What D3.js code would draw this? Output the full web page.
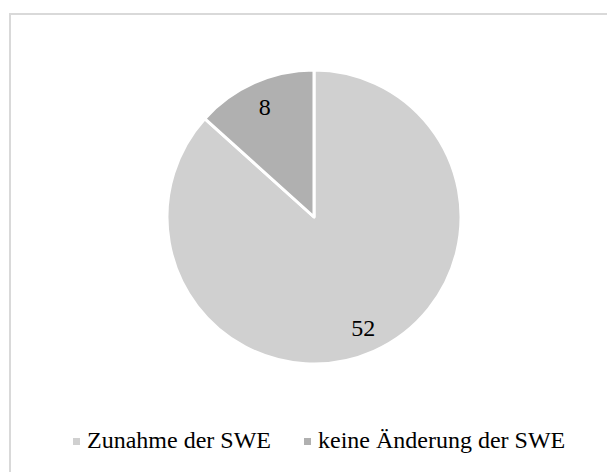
<!DOCTYPE html>
<html>
<head>
<meta charset="utf-8">
<script src="https://cdn.jsdelivr.net/npm/d3@7"></script>
<style>
  body { margin: 0; background: #fff; }
  svg { display: block; }
  text { font-family: "Liberation Serif", Tinos, "Times New Roman", "DejaVu Serif", serif; }
</style>
</head>
<body>
<div id="chart"></div>
<script>
// pie data
var categories = ["Zunahme der SWE", "keine Änderung der SWE"];
var values = [52, 8];
var colors = ["#d0d0d0", "#b0b0b0"];

var width = 607, height = 472;
var cx = 314, cy = 217, radius = 147;

var svg = d3.select("#chart")
  .append("svg")
  .attr("width", width)
  .attr("height", height);

// chart area border (runs off the right/bottom edge like the original)
svg.append("rect")
  .attr("x", 10)
  .attr("y", 14)
  .attr("width", 610)
  .attr("height", 470)
  .attr("fill", "#fff")
  .attr("stroke", "#d9d9d9")
  .attr("stroke-width", 2);

var pie = d3.pie().sort(null).value(d => d);
var arcs = pie(values);

var arc = d3.arc().innerRadius(0).outerRadius(radius);
var labelArc = d3.arc().innerRadius(121).outerRadius(121);

var g = svg.append("g").attr("transform", `translate(${cx}, ${cy})`);

g.selectAll("path")
  .data(arcs)
  .join("path")
    .attr("d", arc)
    .attr("fill", (d, i) => colors[i])
    .attr("stroke", "#fff")
    .attr("stroke-width", 3)
    .attr("stroke-linejoin", "round");

g.selectAll("text")
  .data(arcs)
  .join("text")
    .attr("transform", d => `translate(${labelArc.centroid(d)})`)
    .attr("text-anchor", "middle")
    .attr("dy", "0.35em")
    .attr("font-size", 24)
    .attr("fill", "#000")
    .text(d => d.data);

// legend
var legendX = [73, 304];
var legend = svg.append("g");
categories.forEach((c, i) => {
  legend.append("rect")
    .attr("x", legendX[i])
    .attr("y", 438)
    .attr("width", 7)
    .attr("height", 7)
    .attr("fill", colors[i]);
  legend.append("text")
    .attr("x", legendX[i] + 14)
    .attr("y", 448)
    .attr("font-size", 24)
    .attr("fill", "#000")
    .text(c);
});
</script>
</body>
</html>
